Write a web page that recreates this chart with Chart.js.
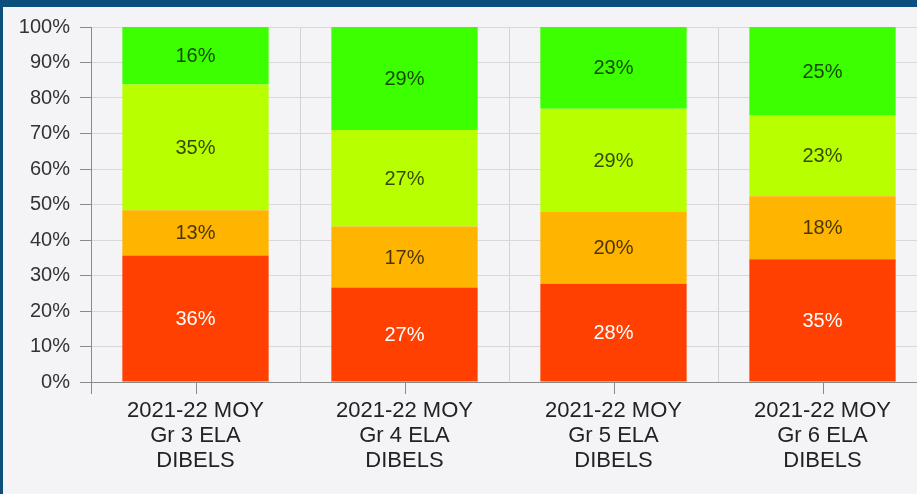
<!DOCTYPE html>
<html>
<head>
<meta charset="utf-8">
<script src="https://cdn.jsdelivr.net/npm/chart.js@4"></script>
<style>
  html, body { margin: 0; padding: 0; background: #f4f4f6; overflow: hidden; }
  #wrap { position: relative; width: 917px; height: 494px; overflow: hidden; }
  #topbar { position: absolute; left: 0; top: 0; width: 917px; height: 7px; background: #0b4f7d; z-index: 2; }
  #leftbar { position: absolute; left: 0; top: 0; width: 3px; height: 494px; background: #0b4f7d; z-index: 2; }
  #chart { position: absolute; left: 0; top: 0; }
</style>
</head>
<body>
<div id="wrap">
  <div id="topbar"></div>
  <div id="leftbar"></div>
  <canvas id="chart" width="930" height="494"></canvas>
</div>
<script>
// categories (each label split on lines)
const categories = [
  ['2021-22 MOY', 'Gr 3 ELA', 'DIBELS'],
  ['2021-22 MOY', 'Gr 4 ELA', 'DIBELS'],
  ['2021-22 MOY', 'Gr 5 ELA', 'DIBELS'],
  ['2021-22 MOY', 'Gr 6 ELA', 'DIBELS']
];
// stacked segments, bottom to top (percent)
const redVals    = [35.6, 26.6, 27.7, 34.6];
const orangeVals = [12.8, 17.2, 20.2, 17.7];
const yellowVals = [35.4, 27.2, 29.1, 22.8];
const greenVals  = [16.2, 29.0, 23.0, 24.9];
const yTicks = [0, 10, 20, 30, 40, 50, 60, 70, 80, 90, 100];

const FONT = '"Liberation Sans", Arial, sans-serif';

// percent labels inside each segment
const segmentLabels = {
  id: 'segmentLabels',
  afterDatasetsDraw(chart) {
    const ctx = chart.ctx;
    ctx.save();
    ctx.font = '20px ' + FONT;
    ctx.textAlign = 'center';
    ctx.textBaseline = 'middle';
    chart.data.datasets.forEach((ds, di) => {
      const meta = chart.getDatasetMeta(di);
      meta.data.forEach((bar, i) => {
        const v = ds.data[i];
        ctx.fillStyle = ds.labelColor;
        ctx.fillText(Math.round(v) + '%', bar.x, (bar.y + bar.base) / 2 + 1);
      });
    });
    ctx.restore();
  }
};

// tick marks under category centres + axis stub on the left
const centerTicks = {
  id: 'centerTicks',
  afterDraw(chart) {
    const ctx = chart.ctx, xs = chart.scales.x, area = chart.chartArea;
    ctx.save();
    ctx.strokeStyle = '#8a8a8a';
    ctx.lineWidth = 1;
    ctx.beginPath();
    categories.forEach((c, i) => {
      const px = Math.round(xs.getPixelForValue(i)) + 0.5;
      ctx.moveTo(px, area.bottom);
      ctx.lineTo(px, area.bottom + 12);
    });
    const lx = Math.round(area.left) + 0.5;
    ctx.moveTo(lx, area.bottom);
    ctx.lineTo(lx, area.bottom + 12);
    ctx.stroke();
    ctx.restore();
  }
};

new Chart(document.getElementById('chart'), {
  type: 'bar',
  data: {
    labels: categories,
    datasets: [
      { data: redVals, backgroundColor: '#ff4000', labelColor: '#ffffff' },
      { data: orangeVals, backgroundColor: '#ffb400', labelColor: 'rgba(40,30,0,0.85)' },
      { data: yellowVals, backgroundColor: '#b8ff00', labelColor: 'rgba(30,40,0,0.85)' },
      { data: greenVals, backgroundColor: '#3cff00', labelColor: 'rgba(10,40,0,0.85)' }
    ]
  },
  options: {
    responsive: false,
    animation: false,
    layout: { padding: { top: 27, right: 3, bottom: 0, left: 0 } },
    plugins: { legend: { display: false }, tooltip: { enabled: false } },
    datasets: { bar: { barPercentage: 0.7, categoryPercentage: 1.0, borderWidth: 0 } },
    scales: {
      x: {
        stacked: true,
        afterFit(s) { s.height = 112; },
        grid: { offset: true, color: '#d2d2d2', drawTicks: false },
        border: { color: '#8a8a8a' },
        ticks: { color: '#222', font: { family: FONT, size: 22, lineHeight: 1.13 }, padding: 17, maxRotation: 0 }
      },
      y: {
        stacked: true,
        min: 0, max: 100,
        afterFit(s) { s.width = 91; },
        afterBuildTicks(s) { s.ticks = yTicks.map(v => ({ value: v })); },
        grid: { color: '#d8d8d8', tickColor: '#8a8a8a', tickLength: 11 },
        border: { color: '#8a8a8a' },
        ticks: { color: '#333', font: { family: FONT, size: 20 }, padding: 10, callback: v => v + '%' }
      }
    }
  },
  plugins: [segmentLabels, centerTicks]
});
</script>
</body>
</html>
